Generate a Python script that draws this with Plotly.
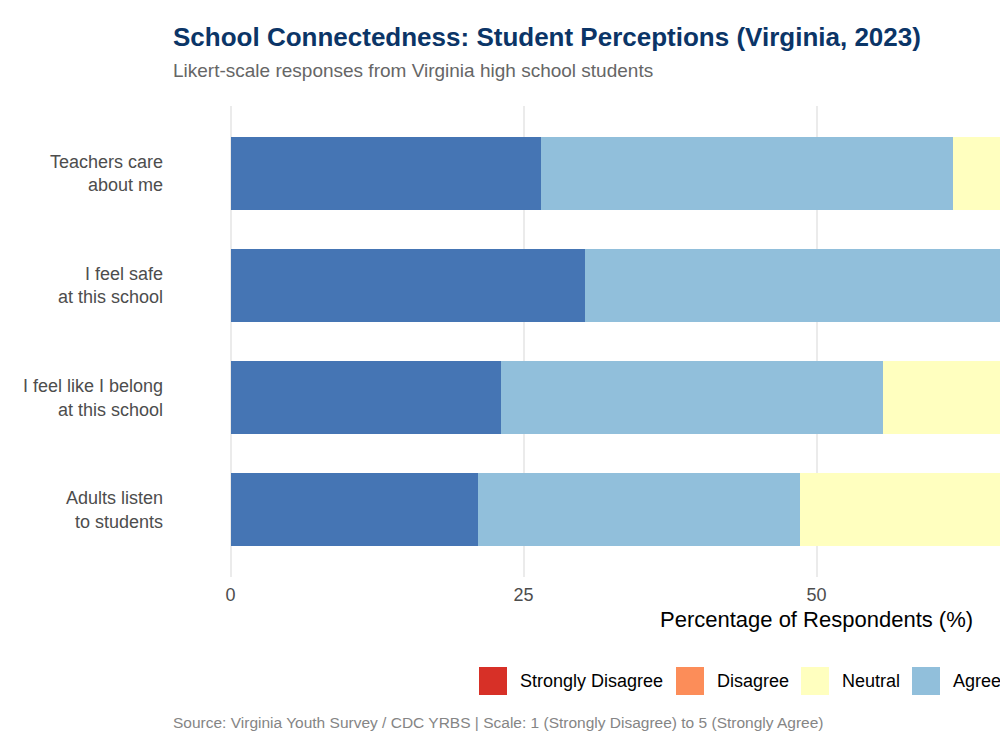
import plotly.graph_objects as go

# ---------------- data ----------------
items = ["Teachers care<br>about me", "I feel safe<br>at this school",
         "I feel like I belong<br>at this school", "Adults listen<br>to students"]
levels = ["Strongly Agree", "Agree", "Neutral", "Disagree", "Strongly Disagree"]
strongly_agree = [26.5, 30.2, 23.1, 21.1]
agree = [35.1, 38.5, 32.6, 27.5]
neutral = [22.0, 17.0, 25.0, 28.0]
disagree = [10.0, 9.0, 12.0, 15.0]
strongly_disagree = [6.4, 5.3, 7.3, 8.4]
values = {"Strongly Agree": strongly_agree, "Agree": agree, "Neutral": neutral,
          "Disagree": disagree, "Strongly Disagree": strongly_disagree}
colors = {"Strongly Agree": "#4575b4", "Agree": "#91bfdb", "Neutral": "#ffffbf",
          "Disagree": "#fc8d59", "Strongly Disagree": "#d73027"}
legend_order = ["Strongly Disagree", "Disagree", "Neutral", "Agree", "Strongly Agree"]
x_ticks = [0, 25, 50, 75, 100]

FONT = "Liberation Sans, Arial, Helvetica, sans-serif"
W, H = 1000, 750
L, R, T, B = 172, 0, 106, 173
PW, PH = W - L - R, H - T - B

def px_x(px):
    return (px - L) / PW

def px_y(py):
    return (H - B - py) / PH

fig = go.Figure()
for lev in levels:
    fig.add_trace(go.Bar(
        y=items, x=values[lev], orientation="h", name=lev,
        marker=dict(color=colors[lev], line=dict(width=0)),
        width=0.65, showlegend=False,
        hovertemplate="%{y}<br>" + lev + ": %{x:.1f}%<extra></extra>",
    ))

# x scale: 0 at px 231, 25 units = 293 px
x_per_px = 25 / 293.0
x_min = -5
x_max = x_min + PW * x_per_px

annotations = []
shapes = []
# title & subtitle
annotations.append(dict(text="<b>School Connectedness: Student Perceptions (Virginia, 2023)</b>",
                        xref="paper", yref="paper", x=px_x(171), y=px_y(37),
                        xanchor="left", yanchor="middle", showarrow=False,
                        font=dict(family=FONT, size=26, color="#0b3567")))
annotations.append(dict(text="Likert-scale responses from Virginia high school students",
                        xref="paper", yref="paper", x=px_x(171), y=px_y(70),
                        xanchor="left", yanchor="middle", showarrow=False,
                        font=dict(family=FONT, size=19, color="#666666")))
# axis title centred on the full 0-100 panel (x=50)
annotations.append(dict(text="Percentage of Respondents (%)",
                        xref="x", yref="paper", x=50, y=px_y(619),
                        xanchor="center", yanchor="middle", showarrow=False,
                        font=dict(family=FONT, size=22, color="#000000")))
# caption
annotations.append(dict(text="Source: Virginia Youth Survey / CDC YRBS | Scale: 1 (Strongly Disagree) to 5 (Strongly Agree)",
                        xref="paper", yref="paper", x=px_x(171), y=px_y(722),
                        xanchor="left", yanchor="middle", showarrow=False,
                        font=dict(family=FONT, size=15.5, color="#858585")))

# legend (manual, ggplot-like keys)
key_left = [479, 676, 801, 912, 1012]
key_size = 28
ly = 681
for lev, kx in zip(legend_order, key_left):
    shapes.append(dict(type="rect", xref="paper", yref="paper",
                       x0=px_x(kx), x1=px_x(kx + key_size),
                       y0=px_y(ly + key_size / 2), y1=px_y(ly - key_size / 2),
                       fillcolor=colors[lev], line=dict(width=0), layer="above"))
    annotations.append(dict(text=lev, xref="paper", yref="paper",
                            x=px_x(kx + key_size + 11), y=px_y(ly),
                            xanchor="left", yanchor="middle", showarrow=False,
                            font=dict(family=FONT, size=18, color="#000000")))

fig.update_layout(
    width=W, height=H,
    margin=dict(l=L, r=R, t=T, b=B, pad=0),
    barmode="stack", bargap=0.35,
    plot_bgcolor="white", paper_bgcolor="white",
    font=dict(family=FONT),
    annotations=annotations, shapes=shapes,
    xaxis=dict(range=[x_min, x_max], tickvals=x_ticks, ticktext=[str(v) for v in x_ticks],
               showgrid=True, gridcolor="#ebebeb", gridwidth=2, zeroline=False,
               showline=False, ticks="", tickfont=dict(family=FONT, size=18, color="#4d4d4d"),
               ticklabelstandoff=5, fixedrange=True),
    yaxis=dict(categoryorder="array", categoryarray=items, range=[3.6, -0.6],
               showgrid=False, zeroline=False, showline=False, ticks="",
               tickfont=dict(family=FONT, size=18, color="#4d4d4d"),
               ticklabelstandoff=8, fixedrange=True),
    showlegend=False,
)

fig.write_html("out.html")
